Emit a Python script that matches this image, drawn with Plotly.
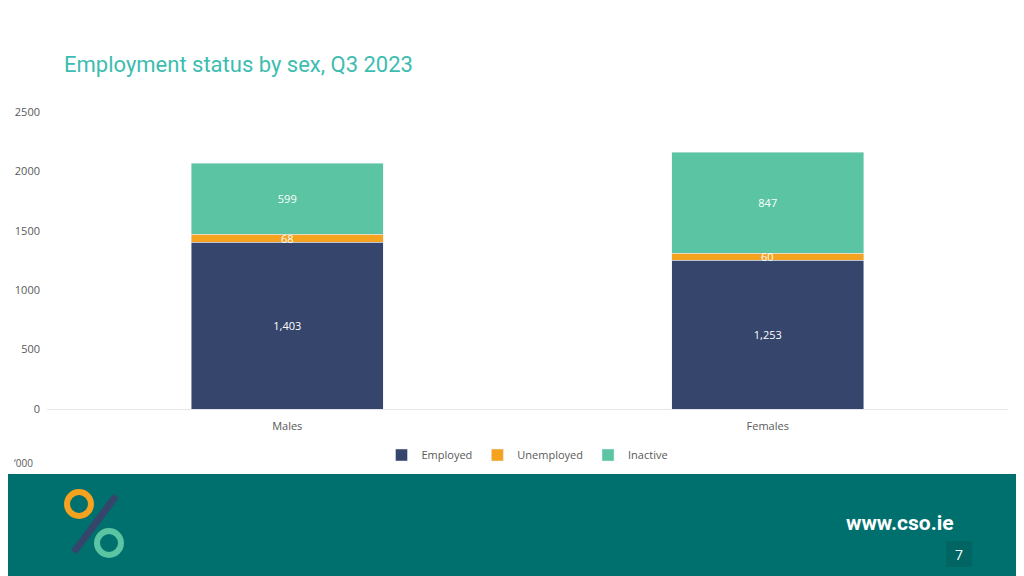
import plotly.graph_objects as go

categories = ["Males", "Females"]
employed = [1403, 1253]
unemployed = [68, 60]
inactive = [599, 847]

W, H = 1024, 576
OFF = 8  # page body margin
L, R, T, B = 47 - OFF, 16 + OFF, 112 - OFF, 167 + OFF
pw, ph = W - L - R, H - T - B


def px(x):
    return (x - OFF - L) / pw


def py(y):
    return (H - B - (y - OFF)) / ph


fig = go.Figure()
for name, vals, col, pos in [
    ("Employed", employed, "#36456b", "inside"),
    ("Unemployed", unemployed, "#f5a21f", "none"),
    ("Inactive", inactive, "#5bc4a3", "inside"),
]:
    fig.add_trace(go.Bar(
        x=categories, y=vals, name=name, marker_color=col,
        text=[f"{v:,}" for v in vals], textposition=pos,
        insidetextanchor="middle", textfont=dict(color="white", size=11),
        width=0.4,
    ))

shapes = [
    dict(type="rect", xref="paper", yref="paper", x0=px(-20), x1=px(W + 20), y0=py(474), y1=py(H + 20),
         fillcolor="#00706e", line_width=0, layer="below"),
    dict(type="rect", xref="paper", yref="paper", x0=px(946), x1=px(972), y0=py(541), y1=py(567),
         fillcolor="#006563", line_width=0),
    # rough logo
    dict(type="circle", xref="paper", yref="paper", x0=px(67), x1=px(91), y0=py(492), y1=py(516),
         line=dict(color="#f5a21f", width=6)),
    dict(type="circle", xref="paper", yref="paper", x0=px(97), x1=px(121), y0=py(531), y1=py(555),
         line=dict(color="#5bc4a3", width=6)),
    dict(type="line", xref="paper", yref="paper", x0=px(74), x1=px(116), y0=py(552), y1=py(496),
         line=dict(color="#36456b", width=7)),
]

annotations = [
    dict(text="Employment status by sex, Q3 2023", xref="paper", yref="paper",
         x=px(62), y=py(65), xanchor="left", yanchor="middle", showarrow=False,
         font=dict(family="Roboto", size=22, color="#3dbdb0")),
    dict(text="‘000", xref="paper", yref="paper", x=px(12), y=py(463),
         xanchor="left", yanchor="middle", showarrow=False,
         font=dict(size=10, color="#595959")),
    dict(text="<b>www.cso.ie</b>", xref="paper", yref="paper", x=px(956), y=py(523),
         xanchor="right", yanchor="middle", showarrow=False,
         font=dict(family="Roboto", size=21, color="white")),
    dict(text="7", xref="paper", yref="paper", x=px(959), y=py(554),
         xanchor="center", yanchor="middle", showarrow=False,
         font=dict(size=14, color="white")),
]
for c, e, u in zip(categories, employed, unemployed):
    annotations.append(dict(text=f"{u:,}", x=c, y=e + u / 2, showarrow=False,
                            font=dict(size=11, color="white")))

fig.update_layout(
    width=W, height=H, barmode="stack",
    margin=dict(l=L, r=R, t=T, b=B, autoexpand=False),
    plot_bgcolor="white", paper_bgcolor="white",
    font=dict(family="Open Sans", size=11, color="#595959"),
    yaxis=dict(range=[0, 2500], dtick=500, showgrid=False, zeroline=False,
               tickfont=dict(size=11), ticklabelstandoff=6, automargin=False),
    xaxis=dict(showline=True, linecolor="#e6e6e6", tickfont=dict(size=11), automargin=False,
               ticks="outside", ticklen=7, tickcolor="rgba(0,0,0,0)"),
    legend=dict(orientation="h", x=0.5, xanchor="center", y=py(455), yanchor="middle",
                font=dict(size=11), traceorder="normal", itemwidth=30),
    shapes=shapes, annotations=annotations,
)

fig.write_html("out.html")
